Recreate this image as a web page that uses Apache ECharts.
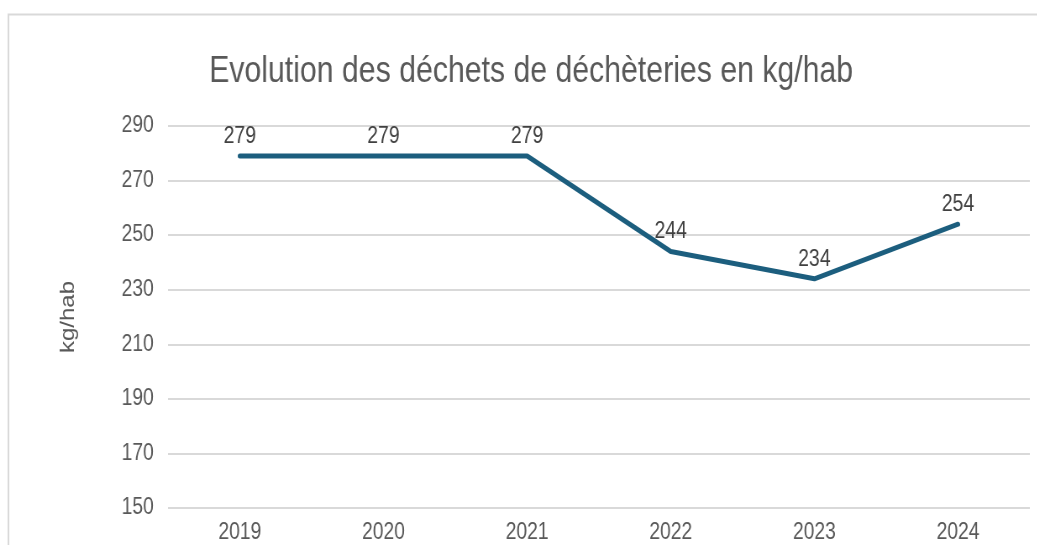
<!DOCTYPE html>
<html><head><meta charset="utf-8">
<script src="https://cdn.jsdelivr.net/npm/echarts@6/dist/echarts.min.js"></script>
<style>
html,body{margin:0;padding:0;background:#fff;overflow:hidden;width:1037px;height:545px}
#c{width:1234px;height:545px;transform:scaleX(0.84);transform-origin:0 0}
</style>
</head><body><div id="c"></div>
<script>
const categories = ['2019','2020','2021','2022','2023','2024'];
const values = [279, 279, 279, 244, 234, 254];
const yTicks = [150, 170, 190, 210, 230, 250, 270, 290];
const titleText = 'Evolution des déchets de déchèteries en kg/hab';
const axisName = 'kg/hab';

const font = '"Liberation Sans", Arial, sans-serif';
const chart = echarts.init(document.getElementById('c'), null, {renderer: 'canvas'});
chart.setOption({
  animation: false,
  backgroundColor: '#fff',
  graphic: [{
    type: 'rect', silent: true, z: -1,
    shape: {x: 10, y: 14.5, width: 1400, height: 700},
    style: {fill: 'none', stroke: '#d9d9d9', lineWidth: 2}
  }],
  title: {
    text: titleText, left: 244, top: 49,
    textStyle: {fontFamily: font, fontSize: 36, fontWeight: 'normal', color: '#595959'}
  },
  grid: {left: 200, right: 8, top: 126, bottom: 37, containLabel: false},
  xAxis: {
    type: 'category', data: categories, boundaryGap: true,
    axisLine: {show: false}, axisTick: {show: false},
    axisLabel: {fontFamily: font, fontSize: 23, color: '#595959', margin: 13}
  },
  yAxis: {
    type: 'value', min: yTicks[0], max: yTicks[yTicks.length - 1], interval: 20,
    name: axisName, nameLocation: 'middle', nameGap: 107, nameRotate: 90,
    nameTextStyle: {fontFamily: font, fontSize: 24, color: '#595959'},
    axisLine: {show: false}, axisTick: {show: false},
    axisLabel: {fontFamily: font, fontSize: 23, color: '#595959', margin: 17},
    splitLine: {lineStyle: {color: '#d9d9d9', width: 2}}
  },
  series: [{
    type: 'line', data: values, symbol: 'circle', symbolSize: 2, showSymbol: true,
    itemStyle: {color: '#1c5e7e', borderWidth: 0},
    lineStyle: {color: '#1c5e7e', width: 5, cap: 'round', join: 'round'},
    label: {show: true, position: 'top', distance: 7,
      fontFamily: font, fontSize: 23, color: '#404040'}
  }]
});
</script></body></html>
